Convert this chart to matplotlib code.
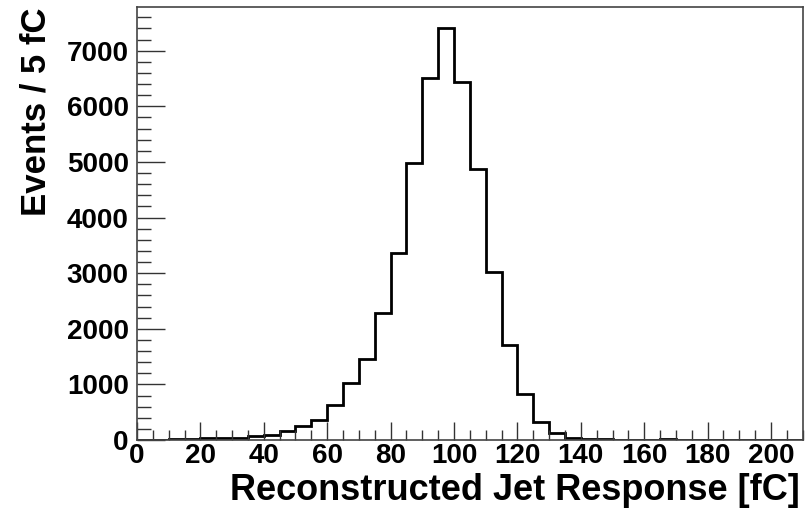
import numpy as np
import matplotlib
matplotlib.use("Agg")
import matplotlib.pyplot as plt
from matplotlib.ticker import MultipleLocator

# Histogram of reconstructed jet response, 5 fC bins from 0 to 210 fC
bin_width = 5
x_min, x_max = 0, 210
counts = [
    4, 6, 10, 14, 28, 30, 38, 72, 96, 162,
    256, 359, 628, 1029, 1460, 2275, 3363, 4979, 6512, 7409,
    6433, 4865, 3013, 1711, 826, 333, 120, 42, 18, 12,
    8, 6, 5, 10, 6, 4, 8, 5, 3, 4,
    9, 3,
]
x_ticks = [0, 20, 40, 60, 80, 100, 120, 140, 160, 180, 200]
y_ticks = [0, 1000, 2000, 3000, 4000, 5000, 6000, 7000]
x_title = "Reconstructed Jet Response [fC]"
y_title = "Events / 5 fC"

edges = np.arange(x_min, x_max + bin_width, bin_width)

plt.rcParams["font.family"] = ["Liberation Sans", "DejaVu Sans"]
plt.rcParams["font.weight"] = "bold"

fig = plt.figure(figsize=(8.11, 5.2), dpi=100)
ax = fig.add_axes([0.1689, 0.1538, 0.9898 - 0.1689, 0.986 - 0.1538])

ax.stairs(counts, edges, color="black", linewidth=2.0, baseline=0)

ax.set_xlim(x_min, x_max)
ax.set_ylim(0, max(counts) * 1.05)

ax.set_xticks(x_ticks)
ax.set_yticks(y_ticks)
ax.xaxis.set_minor_locator(MultipleLocator(5))
ax.yaxis.set_minor_locator(MultipleLocator(200))

ax.tick_params(axis="both", which="both", direction="in", color="#333333",
               top=False, right=False, width=1.0)
ax.tick_params(axis="x", which="major", length=13, pad=2, labelsize=20)
ax.tick_params(axis="x", which="minor", length=7)
ax.tick_params(axis="y", which="major", length=20, pad=6, labelsize=20)
ax.tick_params(axis="y", which="minor", length=10)
for lbl in ax.get_xticklabels() + ax.get_yticklabels():
    lbl.set_fontweight("bold")

for spine in ax.spines.values():
    spine.set_color("#444444")
    spine.set_linewidth(1.2)

fig.text(0.9865, 0.056, x_title, ha="right", va="center",
         fontsize=26, fontweight="bold")
fig.text(0.044, 0.985, y_title, ha="center", va="top", rotation=90,
         fontsize=25, fontweight="bold")

fig.savefig("out.png", dpi=100)
